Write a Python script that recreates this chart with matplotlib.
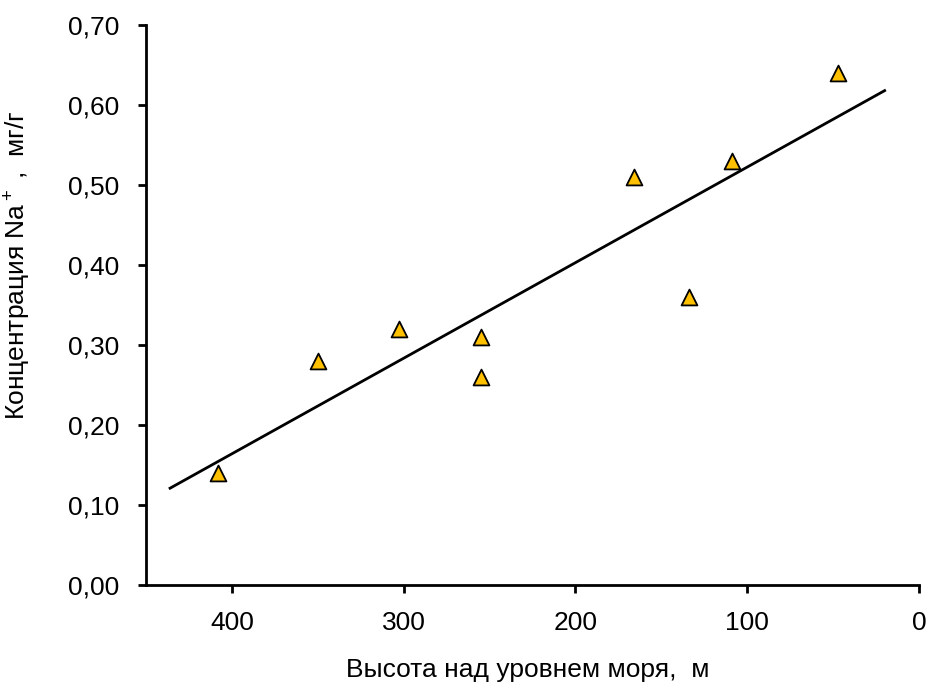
import numpy as np
import matplotlib.pyplot as plt
from matplotlib.ticker import FuncFormatter

# data
height_m = [408, 350, 303, 255, 255, 166, 134, 109, 47]
na_conc = [0.14, 0.28, 0.32, 0.31, 0.26, 0.51, 0.36, 0.53, 0.64]
trend_x = [436, 20]
trend_y = [0.121, 0.618]

plt.rcParams['font.family'] = ['Liberation Sans', 'DejaVu Sans']
plt.rcParams['mathtext.fontset'] = 'custom'
plt.rcParams['mathtext.rm'] = 'Liberation Sans'

fig = plt.figure(figsize=(9.33, 6.91), dpi=100)
ax = fig.add_axes([0.1565, 0.1534, 0.8285, 0.8104])

ax.plot(trend_x, trend_y, color='black', lw=2)
ax.scatter(height_m, na_conc, marker='^', s=130, color='#FFC000',
           edgecolor='black', linewidth=1.3, zorder=3)

ax.set_xlim(450, 0)
ax.set_ylim(0, 0.70)
ax.set_xticks([400, 300, 200, 100, 0])
ax.set_yticks(np.arange(0, 0.71, 0.1))
ax.yaxis.set_major_formatter(FuncFormatter(lambda v, p: f'{v:.2f}'.replace('.', ',')))

for s in ['top', 'right']:
    ax.spines[s].set_visible(False)
for s in ['left', 'bottom']:
    ax.spines[s].set_linewidth(2)
ax.tick_params(direction='out', length=6, width=2, labelsize=19, pad=13)

ax.set_xlabel('Высота над уровнем моря,  м', fontsize=19)
ax.xaxis.set_label_coords(0.494, -0.13)
ax.set_ylabel('Концентрация Na$\\mathregular{^+}$ ,  мг/г', fontsize=19)
ax.yaxis.set_label_coords(-0.146, 0.571)

fig.savefig('out.png', dpi=100)
